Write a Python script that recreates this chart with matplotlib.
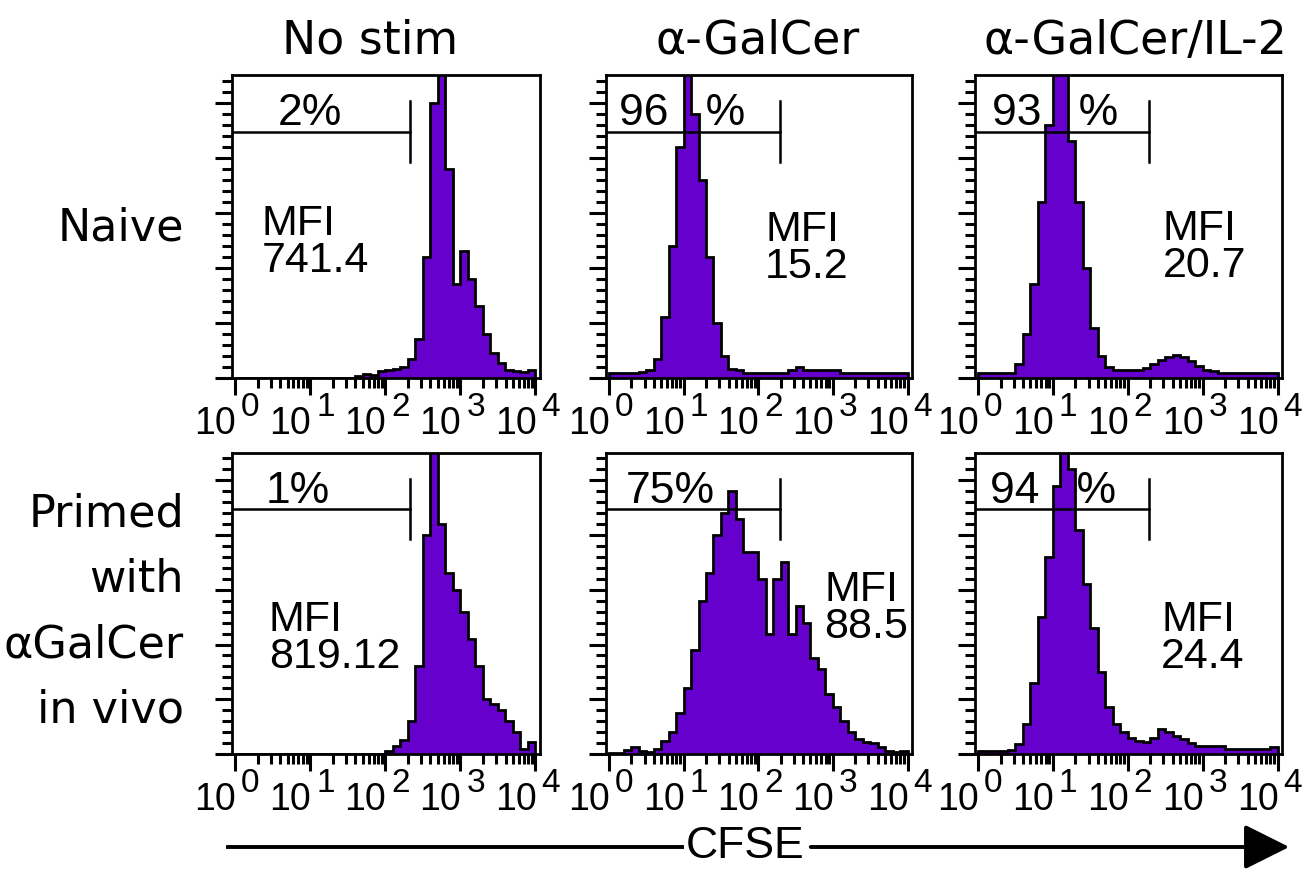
import numpy as np
import matplotlib.pyplot as plt
from matplotlib import transforms
from matplotlib.lines import Line2D
from matplotlib.patches import FancyArrowPatch
from matplotlib.ticker import MultipleLocator, LogLocator, NullFormatter

# CFSE histograms, 0.1-decade bins from 10^0 to 10^4 (counts in y-axis units)
log_edges = np.linspace(0, 4, 41)

col_names = ['No stim', 'α-GalCer', 'α-GalCer/IL-2']
row_names = ['Naive', 'Primed\nwith\nαGalCer\nin vivo']

naive_nostim = [0, 0, 0, 0, 0, 0, 0, 0, 0, 0,
                0, 0, 0, 0, 0, 0, 0.03, 0.08, 0.06, 0.12,
                0.15, 0.16, 0.2, 0.35, 0.7, 2.2, 5.0, 6.5, 3.8, 1.7,
                2.3, 1.8, 1.3, 0.8, 0.45, 0.28, 0.15, 0.12, 0.1, 0.15]
naive_galcer = [0.09, 0.09, 0.09, 0.09, 0.1, 0.15, 0.35, 1.1, 2.4, 4.2,
                6.5, 4.8, 3.6, 2.2, 1.0, 0.4, 0.16, 0.14, 0.09, 0.09,
                0.09, 0.09, 0.09, 0.09, 0.15, 0.2, 0.15, 0.15, 0.15, 0.15,
                0.15, 0.09, 0.09, 0.09, 0.09, 0.09, 0.09, 0.09, 0.09, 0.09]
naive_il2 = [0.09, 0.09, 0.09, 0.09, 0.09, 0.25, 0.8, 1.7, 3.2, 4.6,
             6.5, 6.5, 4.3, 3.2, 2.0, 0.9, 0.4, 0.2, 0.15, 0.15,
             0.15, 0.15, 0.18, 0.25, 0.32, 0.38, 0.42, 0.38, 0.3, 0.22,
             0.15, 0.12, 0.09, 0.09, 0.09, 0.09, 0.09, 0.09, 0.09, 0.09]
primed_nostim = [0, 0, 0, 0, 0, 0, 0, 0, 0, 0,
                 0, 0, 0, 0, 0, 0, 0, 0, 0, 0,
                 0.05, 0.15, 0.25, 0.6, 1.6, 4.0, 6.5, 4.2, 3.3, 3.0,
                 2.6, 2.1, 1.6, 1.0, 0.92, 0.8, 0.6, 0.4, 0.1, 0.22]
primed_galcer = [0.02, 0.02, 0.08, 0.12, 0.05, 0.04, 0.1, 0.24, 0.4, 0.75,
                 1.2, 1.9, 2.8, 3.3, 4.0, 4.4, 4.8, 4.3, 3.7, 3.7,
                 3.2, 2.2, 3.2, 3.5, 2.2, 2.7, 2.4, 1.75, 1.55, 1.1,
                 0.85, 0.6, 0.4, 0.28, 0.22, 0.2, 0.12, 0.06, 0.04, 0.06]
primed_il2 = [0.06, 0.06, 0.06, 0.06, 0.08, 0.18, 0.55, 1.3, 2.5, 3.6,
              4.9, 6.5, 5.2, 4.1, 3.1, 2.3, 1.5, 0.85, 0.55, 0.4,
              0.3, 0.24, 0.22, 0.3, 0.45, 0.4, 0.33, 0.28, 0.2, 0.15,
              0.15, 0.15, 0.15, 0.09, 0.09, 0.09, 0.09, 0.09, 0.09, 0.12]

pct_labels = ['2%', '96   %', '93   %', '1%', '75%', '94   %']
mfi_values = ['741.4', '15.2', '20.7', '819.12', '88.5', '24.4']
gate_end = [215, 195, 195, 215, 195, 195]
gate_level = 4.47

panels = [naive_nostim, naive_galcer, naive_il2,
          primed_nostim, primed_galcer, primed_il2]

# layout (pixels)
W, H = 1316, 876
col_x = [232, 606, 975]
col_w = [308, 306, 307]
row_top = [75, 453]
row_h = [303, 301]
pct_x = [0.253, 0.248, 0.26, 0.215, 0.21, 0.255]
mfi_pos = [(0.097, 0.447), (0.52, 0.427), (0.612, 0.431),
           (0.12, 0.383), (0.713, 0.483), (0.607, 0.383)]

purple = '#6600cc'
narrow = ['Liberation Sans Narrow', 'Liberation Sans']
arial = ['Liberation Sans']

fig = plt.figure(figsize=(13.16, 8.76), dpi=100)
edges = 10 ** log_edges

for i, vals in enumerate(panels):
    r, c = divmod(i, 3)
    ax = fig.add_axes([col_x[c] / W, 1 - (row_top[r] + row_h[r]) / H,
                       col_w[c] / W, row_h[r] / H])
    ax.set_xscale('log')
    ax.set_xlim(10 ** -0.04, 10 ** 4.06)
    ax.set_ylim(0, 5.5)

    ax.stairs(vals, edges, fill=True, color=purple, lw=0, zorder=2)
    ax.stairs(vals, edges, color='k', lw=2, zorder=3)

    # gate marker
    ax.plot([10 ** -0.04, gate_end[i]], [gate_level, gate_level], color='k', lw=1.8, zorder=4)
    ax.plot([gate_end[i], gate_end[i]], [gate_level - 0.55, gate_level + 0.55], color='k', lw=1.8, zorder=4)

    ax.text(pct_x[i], 0.835, pct_labels[i], transform=ax.transAxes, ha='center',
            va='baseline', fontsize=32, family=arial, zorder=1)
    ax.text(mfi_pos[i][0], mfi_pos[i][1], 'MFI\n' + mfi_values[i], transform=ax.transAxes,
            ha='left', va='center', fontsize=31, family=arial, linespacing=0.92, zorder=1)

    ax.yaxis.set_major_locator(MultipleLocator(1))
    ax.yaxis.set_minor_locator(MultipleLocator(0.2))
    ax.xaxis.set_major_locator(LogLocator(base=10, numticks=10))
    ax.xaxis.set_minor_locator(LogLocator(base=10, subs=np.arange(2, 10), numticks=10))
    ax.xaxis.set_minor_formatter(NullFormatter())
    ax.tick_params(which='major', direction='out', length=12, width=2.2,
                   labelbottom=False, labelleft=False)
    ax.tick_params(which='minor', direction='out', length=7, width=2.2)
    for s in ax.spines.values():
        s.set_linewidth(2)

    trans = transforms.blended_transform_factory(ax.transData, ax.transAxes)
    for k in range(5):
        base = transforms.offset_copy(trans, fig=fig, x=1, y=0, units='dots')
        ax.text(10 ** k, -56 / row_h[r], '10', transform=base, ha='right',
                va='baseline', fontsize=27, family=narrow)
        sup = transforms.offset_copy(trans, fig=fig, x=6, y=0, units='dots')
        ax.text(10 ** k, -38 / row_h[r], str(k), transform=sup, ha='left',
                va='baseline', fontsize=24, family=narrow)

for c, name in enumerate(col_names):
    fig.text([370, 758, 1135][c] / W, 1 - 54 / H, name, ha='center',
             va='baseline', fontsize=33)

fig.text(184 / W, 1 - 228 / H, row_names[0], ha='right', va='center', fontsize=32)
fig.text(184 / W, 1 - 612 / H, row_names[1], ha='right', va='center',
         fontsize=32, linespacing=1.66)

# CFSE axis arrow
ay = 1 - 847 / H
fig.text(745 / W, ay, 'CFSE', ha='center', va='center', fontsize=32, family=narrow)
fig.add_artist(Line2D([228 / W, 682 / W], [ay, ay], transform=fig.transFigure,
                      color='k', lw=2.8))
fig.add_artist(FancyArrowPatch((808 / W, ay), (1292 / W, ay), transform=fig.transFigure,
                               arrowstyle='-|>,head_length=1.4,head_width=0.7',
                               mutation_scale=20, color='k', lw=2.8))

fig.savefig('out.png', dpi=100)
